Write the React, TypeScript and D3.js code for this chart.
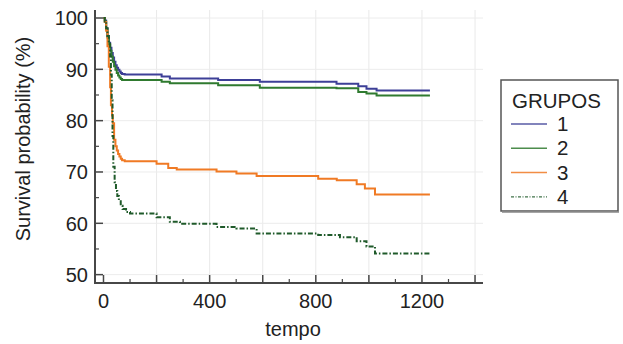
import React from "react";
import * as d3 from "d3";

const groups = ["1", "2", "3", "4"];
const colors = ["#3d3f97", "#2f7a2f", "#f07a24", "#1f5a2a"];

const g1T = [0, 5, 10, 15, 20, 25, 30, 35, 40, 45, 50, 55, 60, 65, 70, 80, 219, 250, 432, 589, 878, 960, 991, 1029, 1230];
const g1V = [100, 99.5, 98, 96.5, 95.2, 94.2, 93.2, 92.3, 91.5, 90.8, 90.3, 89.9, 89.6, 89.3, 89.1, 89.0, 88.6, 88.2, 87.9, 87.6, 87.2, 86.7, 86.2, 85.9, 85.9];

const g2T = [0, 5, 10, 15, 20, 25, 30, 35, 40, 45, 50, 55, 60, 65, 70, 80, 219, 250, 432, 589, 878, 960, 991, 1029, 1230];
const g2V = [100, 99.3, 97.8, 96.2, 94.8, 93.6, 92.5, 91.5, 90.6, 89.9, 89.3, 88.8, 88.4, 88.1, 87.9, 87.9, 87.6, 87.3, 86.9, 86.4, 86.3, 85.6, 85.3, 84.9, 84.9];

const g3T = [0, 5, 10, 15, 20, 25, 28, 32, 35, 40, 45, 50, 55, 60, 65, 70, 80, 200, 244, 276, 426, 501, 577, 809, 879, 954, 985, 1023, 1230];
const g3V = [100, 99.2, 97.5, 94.5, 90.5, 86.5, 83, 81, 79.5, 76.3, 75, 74.2, 73.5, 73.0, 72.6, 72.3, 72.1, 71.6, 70.8, 70.5, 70.1, 69.7, 69.2, 68.7, 68.4, 67.6, 66.8, 65.6, 65.6];

const g4T = [0, 5, 10, 15, 20, 25, 28, 31, 34, 37, 42, 47, 52, 58, 65, 72, 85, 100, 200, 250, 288, 426, 501, 577, 809, 891, 954, 991, 1023, 1230];
const g4V = [100, 99.3, 98, 96.5, 95, 92.5, 89, 84, 77, 71, 68, 66.3, 65.3, 64.3, 63.4, 62.8, 62.2, 61.9, 61.2, 60.3, 59.9, 59.3, 59.0, 58.0, 57.7, 57.3, 56.5, 55.5, 54.1, 54.1];

const seriesT = [g1T, g2T, g3T, g4T];
const seriesV = [g1V, g2V, g3V, g4V];

const xTickLabels = [0, 400, 800, 1200];
const yTickLabels = [50, 60, 70, 80, 90, 100];

const FONT = "'Liberation Sans', Arial, sans-serif";

export default function App() {
  const W = 623, H = 344;
  const left = 95, right = 483, top = 10, bottom = 283;
  const x = d3.scaleLinear().domain([-32, 1430]).range([left, right]);
  const y = d3.scaleLinear().domain([48.37, 101.56]).range([bottom, top]);

  const line = d3
    .line<[number, number]>()
    .x((d) => x(d[0]))
    .y((d) => y(d[1]))
    .curve(d3.curveStepAfter);

  const xMinor = d3.range(0, 1401, 100);
  const xGrid = d3.range(200, 1401, 200);
  const yMinor = d3.range(55, 100, 10);
  const yMajor = d3.range(50, 101, 10);
  const axisColor = "#474747";
  const dashes = [null, null, null, "5,2,1.5,2"];

  return (
    <svg width={W} height={H} style={{ position: "absolute", left: 0, top: 0, background: "#fff" }}>
      {/* grid */}
      {xGrid.map((t) => (
        <line key={"gx" + t} x1={x(t)} x2={x(t)} y1={top} y2={bottom} stroke="#e9e9e9" strokeWidth={1} />
      ))}
      {yMajor.map((v) => (
        <line key={"gy" + v} x1={left} x2={right} y1={y(v)} y2={y(v)} stroke="#ececec" strokeWidth={1} />
      ))}
      {/* curves */}
      {seriesT.map((ts, i) => (
        <path
          key={"s" + i}
          d={line(ts.map((t, j) => [t, seriesV[i][j]] as [number, number])) || ""}
          fill="none"
          stroke={colors[i]}
          strokeWidth={2}
          strokeDasharray={dashes[i] || undefined}
        />
      ))}
      {/* axes */}
      <line x1={left} x2={left} y1={top} y2={bottom} stroke={axisColor} strokeWidth={2} />
      <line x1={left - 1} x2={right} y1={bottom} y2={bottom} stroke={axisColor} strokeWidth={2} />
      {yMajor.map((v) => (
        <line key={"yt" + v} x1={left} x2={left + 8} y1={y(v)} y2={y(v)} stroke={axisColor} strokeWidth={1.5} />
      ))}
      {yMinor.map((v) => (
        <line key={"ym" + v} x1={left} x2={left + 4} y1={y(v)} y2={y(v)} stroke={axisColor} strokeWidth={1.2} />
      ))}
      {xMinor.map((t) => (
        <line
          key={"xt" + t}
          x1={x(t)}
          x2={x(t)}
          y1={bottom}
          y2={bottom - (t % 200 === 0 ? 8 : 4)}
          stroke={axisColor}
          strokeWidth={t % 200 === 0 ? 1.5 : 1.2}
        />
      ))}
      {yTickLabels.map((v) => (
        <text key={"yl" + v} x={88} y={y(v)} dy="0.36em" textAnchor="end" fontFamily={FONT} fontSize={20} fill="#222">
          {v}
        </text>
      ))}
      {xTickLabels.map((t) => (
        <text key={"xl" + t} x={x(t)} y={308} textAnchor="middle" fontFamily={FONT} fontSize={20} fill="#222">
          {t}
        </text>
      ))}
      <text x={293} y={336} textAnchor="middle" fontFamily={FONT} fontSize={20} fill="#222">
        tempo
      </text>
      <text
        transform="translate(30,139) rotate(-90)"
        textAnchor="middle"
        fontFamily={FONT}
        fontSize={20}
        fill="#222"
      >
        Survival probability (%)
      </text>
      {/* legend */}
      <rect x={501} y={80} width={117} height={131} fill="#fff" stroke="#555" strokeWidth={1.5} />
      <line x1={502} x2={619} y1={212} y2={212} stroke="#888" strokeWidth={1.5} />
      <text x={512} y={108} fontFamily={FONT} fontSize={20.5} fill="#222">
        GRUPOS
      </text>
      {groups.map((g, i) => {
        const ly = 124 + i * 24.3;
        return (
          <g key={"lg" + g}>
            <line
              x1={511}
              x2={547}
              y1={ly}
              y2={ly}
              stroke={colors[i]}
              strokeWidth={i === 3 ? 1.2 : 1.5}
              strokeDasharray={i === 3 ? "3,1.5,1,1.5" : undefined}
              opacity={0.85}
            />
            <text x={557} y={ly + 7} fontFamily={FONT} fontSize={20.5} fill="#222">
              {g}
            </text>
          </g>
        );
      })}
    </svg>
  );
}
